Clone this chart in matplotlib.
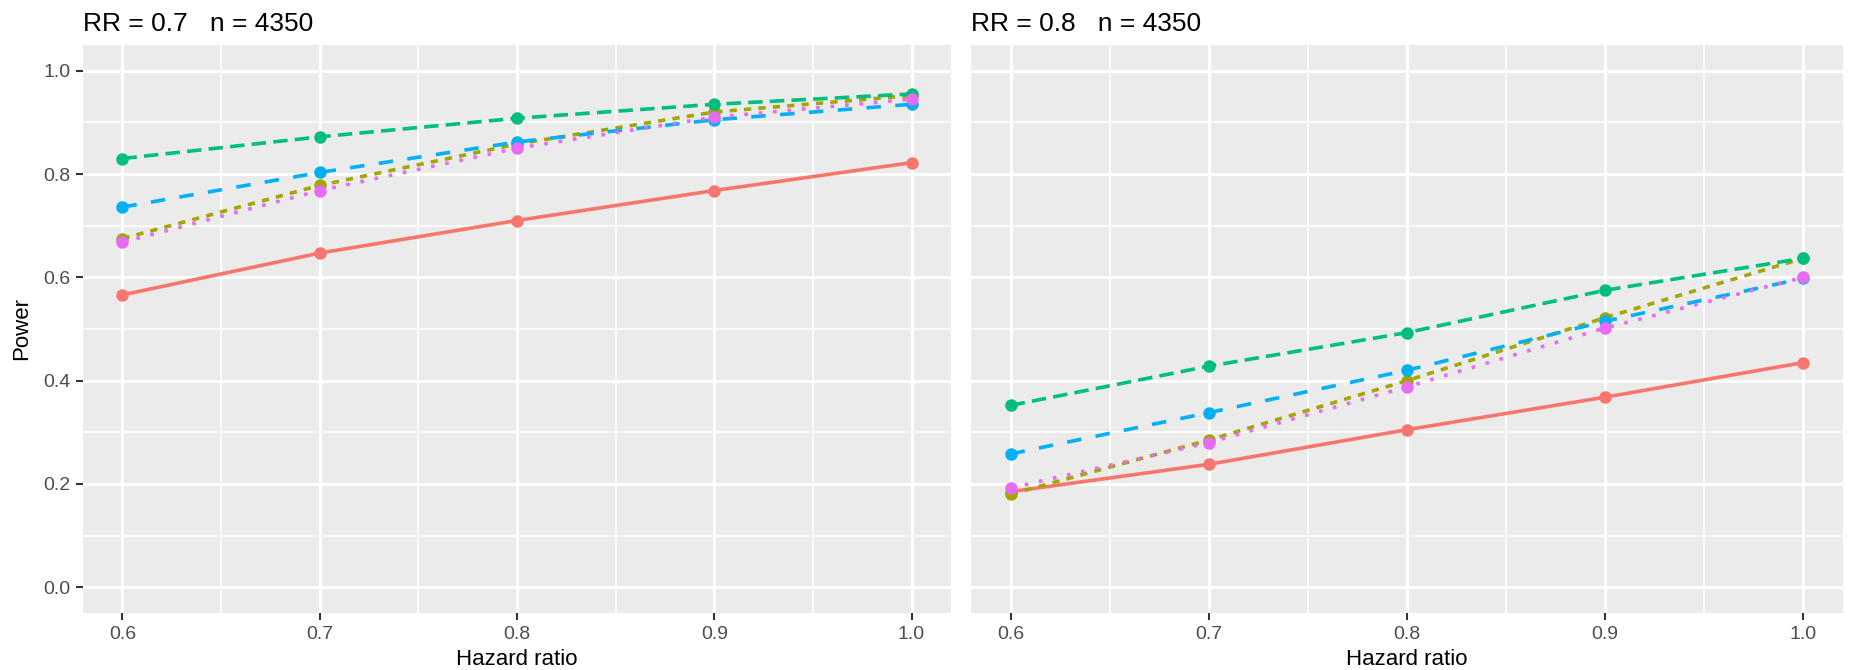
import matplotlib.pyplot as plt
import numpy as np

plt.rcParams['font.family'] = ['Liberation Sans', 'DejaVu Sans']

hazard_ratio = [0.6, 0.7, 0.8, 0.9, 1.0]
methods = ["m1", "m2", "m3", "m4", "m5"]
colors = ["#F8766D", "#A3A500", "#00BF7D", "#00B0F6", "#E76BF3"]
dashes = [None, (2, 2), (4, 2), (4, 4), (1, 3)]

titles = ["RR = 0.7   n = 4350", "RR = 0.8   n = 4350"]

power_rr07 = [
    [0.566, 0.647, 0.710, 0.768, 0.822],
    [0.675, 0.778, 0.858, 0.920, 0.952],
    [0.830, 0.872, 0.908, 0.935, 0.955],
    [0.736, 0.803, 0.862, 0.905, 0.935],
    [0.668, 0.768, 0.850, 0.910, 0.945],
]
power_rr08 = [
    [0.185, 0.238, 0.305, 0.368, 0.435],
    [0.180, 0.285, 0.400, 0.522, 0.637],
    [0.352, 0.428, 0.493, 0.575, 0.637],
    [0.258, 0.338, 0.420, 0.515, 0.598],
    [0.192, 0.280, 0.388, 0.502, 0.600],
]

fig = plt.figure(figsize=(18.57, 6.70), dpi=100)
axes = [fig.add_axes([0.0447, 0.085, 0.4674, 0.848]),
        fig.add_axes([0.5229, 0.085, 0.4696, 0.848])]

for i, (ax, data) in enumerate(zip(axes, [power_rr07, power_rr08])):
    ax.set_facecolor("#EBEBEB")
    for s in ax.spines.values():
        s.set_visible(False)
    ax.set_xlim(0.58, 1.02)
    ax.set_ylim(-0.05, 1.05)
    ax.set_xticks(hazard_ratio)
    ax.set_xticks([0.65, 0.75, 0.85, 0.95], minor=True)
    ax.set_yticks([0.0, 0.2, 0.4, 0.6, 0.8, 1.0])
    ax.set_yticks([0.1, 0.3, 0.5, 0.7, 0.9], minor=True)
    ax.grid(which="major", color="white", linewidth=2.2)
    ax.grid(which="minor", color="white", linewidth=1.1)
    ax.set_axisbelow(True)
    ax.set_xticklabels(["0.6", "0.7", "0.8", "0.9", "1.0"])
    ax.tick_params(which="major", length=5, width=1.5, color="#333333",
                   labelsize=14, labelcolor="#4D4D4D", pad=4)
    ax.tick_params(which="minor", length=0)
    if i == 0:
        ax.set_yticklabels(["0.0", "0.2", "0.4", "0.6", "0.8", "1.0"])
        ax.set_ylabel("Power", fontsize=16, labelpad=8)
    else:
        ax.tick_params(axis="y", which="both", left=False, labelleft=False)
    ax.set_xlabel("Hazard ratio", fontsize=16, labelpad=5)
    ax.set_title(titles[i], loc="left", fontsize=19, pad=10)

    for vals, c, d in zip(data, colors, dashes):
        line, = ax.plot(hazard_ratio, vals, color=c, linewidth=2.6,
                        marker="o", markersize=9, markeredgewidth=0)
        if d is not None:
            line.set_dashes(d)

fig.savefig("out.png", dpi=100)
